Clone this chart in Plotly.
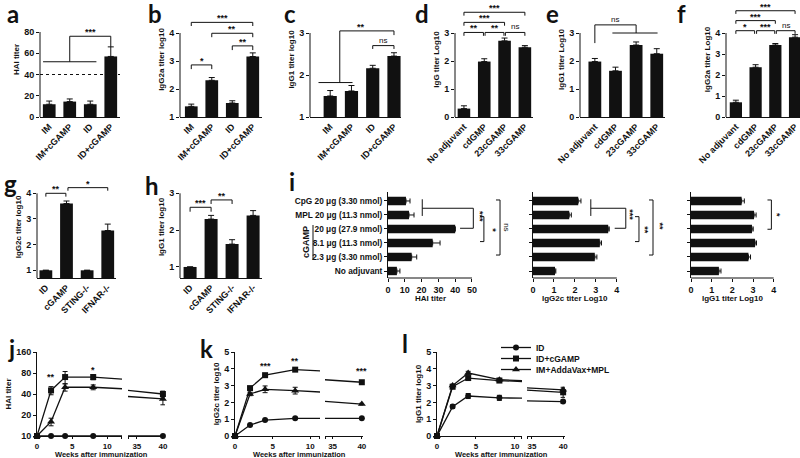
import math
import plotly.graph_objects as go

W, H = 800, 458
FONT = "Liberation Sans"
INK = "#111111"

# ---------------- data ----------------
a_cats = ["IM", "IM+cGAMP", "ID", "ID+cGAMP"]
a_vals = [12, 14.5, 12, 57]
a_errs = [3, 2.5, 3, 9]

b_vals = [1.38, 2.31, 1.5, 3.16]
b_errs = [0.08, 0.1, 0.08, 0.13]

c_vals = [1.5, 1.62, 2.16, 2.45]
c_errs = [0.13, 0.13, 0.07, 0.08]

adj_cats = ["No adjuvant", "cdGMP", "23cGAMP", "33cGAMP"]
d_vals = [0.3, 1.98, 2.72, 2.49]
d_errs = [0.1, 0.1, 0.1, 0.06]
e_vals = [1.98, 1.65, 2.57, 2.26]
e_errs = [0.11, 0.13, 0.11, 0.18]
f_vals = [0.7, 2.37, 3.43, 3.8]
f_errs = [0.1, 0.12, 0.07, 0.12]

ko_cats = ["ID", "cGAMP", "STING-/-", "IFNAR-/-"]
g_vals = [1.0, 3.6, 1.0, 2.55]
g_errs = [0, 0.1, 0, 0.25]
h_vals = [1.0, 2.3, 1.62, 2.4]
h_errs = [0, 0.1, 0.12, 0.13]

i_cats = ["CpG 20 μg (3.30 nmol)", "MPL 20 μg (11.3 nmol)", "20 μg (27.9 nmol)",
          "8.1 μg (11.3 nmol)", "2.3 μg (3.30 nmol)", "No adjuvant"]
i_hai = [10.7, 12.5, 40, 26.6, 14.1, 5.3]
i_hai_err = [2.4, 3, 0, 4.4, 3, 1.8]
i_igg2c = [2.16, 1.73, 3.59, 3.19, 2.95, 1.05]
i_igg2c_err = [0.13, 0.1, 0.05, 0.08, 0.1, 0.04]
i_igg1 = [2.45, 3.05, 2.95, 3.1, 2.78, 1.35]
i_igg1_err = [0.13, 0.1, 0.06, 0.07, 0.1, 0.1]

weeks = [0, 2, 4, 8, 40]
groups = ["ID", "ID+cGAMP", "IM+AddaVax+MPL"]
j_id = [10, 10, 10, 10, 10]
j_id_err = [0, 0, 0, 0, 0]
j_cg = [10, 45, 70, 70, 40]
j_cg_err = [0, 6, 14, 6, 4]
j_mpl = [10, 16, 50, 50, 34]
j_mpl_err = [0, 2, 6, 4, 6]

k_id = [0, 0.65, 0.95, 1.05, 1.05]
k_id_err = [0, 0.03, 0.03, 0.03, 0.03]
k_cg = [0, 2.85, 3.62, 3.95, 3.2]
k_cg_err = [0, 0.07, 0.05, 0.05, 0.05]
k_mpl = [0, 2.5, 2.78, 2.7, 1.9]
k_mpl_err = [0, 0.1, 0.2, 0.2, 0.05]

l_id = [0, 1.75, 2.38, 2.27, 2.05]
l_id_err = [0, 0.1, 0.15, 0.15, 0.1]
l_cg = [0, 2.93, 3.45, 3.3, 2.6]
l_cg_err = [0, 0.08, 0.1, 0.1, 0.3]
l_mpl = [0, 3.0, 3.75, 3.35, 2.75]
l_mpl_err = [0, 0.08, 0.1, 0.08, 0.05]

# ---------------- helpers ----------------
fig = go.Figure()
layout = dict(width=W, height=H, margin=dict(l=0, r=0, t=0, b=0, autoexpand=False),
              template="none", paper_bgcolor="white", plot_bgcolor="white",
              font=dict(family=FONT, size=9, color=INK), showlegend=True)
shapes, annos = [], []

TICK = dict(family=FONT, size=9, color=INK, weight="bold")
TTICK = dict(family=FONT, size=8, color=INK, weight="bold")
TITLE = dict(family=FONT, size=8, color=INK, weight="bold")
STAR = dict(family=FONT, size=9, color=INK, weight="bold")
NS = dict(family=FONT, size=8, color=INK)
BASE_AX = dict(automargin=False, showgrid=False, zeroline=False, fixedrange=True)


def X(p):
    return p / W


def Y(p):
    return 1 - p / H


def aname(k, n):
    return f"{k}axis" if n == 1 else f"{k}axis{n}"


def aref(k, n):
    return k if n == 1 else f"{k}{n}"


def label(text, x, y, xref, yref, font=STAR, angle=0, **kw):
    kw.setdefault("xanchor", "center")
    kw.setdefault("yanchor", "middle")
    annos.append(dict(text=text, x=x, y=y, xref=xref, yref=yref, showarrow=False,
                      font=font, textangle=angle, **kw))


def path(groups_, n, w=1):
    d = " ".join("M" + " L".join(f"{x},{y}" for x, y in grp) for grp in groups_)
    shapes.append(dict(type="path", path=d, xref=aref("x", n), yref=aref("y", n),
                       line=dict(color=INK, width=w)))


def bracket(n, x0, x1, y, drop, text):
    path([[(x0, y - drop), (x0, y), (x1, y), (x1, y - drop)]], n)
    f = NS if text == "ns" else STAR
    label(text, (x0 + x1) / 2, y, aref("x", n), aref("y", n), f,
          yanchor="bottom", yshift=-3 if text != "ns" else -1)


def vbar(n, cats, vals, errs, xpx, xr, ybot, ymin, ref_val, ref_px, ytop, yticks, ytitle):
    ppu = (ybot - ref_px) / (ref_val - ymin)
    ymax = ymin + (ybot - ytop) / ppu
    xs = list(range(len(cats)))
    fig.add_trace(go.Bar(
        x=xs, y=vals, width=0.62, marker=dict(color=INK, line=dict(width=0)),
        error_y=dict(type="data", array=errs, arrayminus=[0] * len(errs), symmetric=False,
                     color=INK, thickness=1, width=3),
        xaxis=aref("x", n), yaxis=aref("y", n), showlegend=False, hoverinfo="skip"))
    layout[aname("x", n)] = dict(
        domain=[X(xpx[0]), X(xpx[1])], range=xr, anchor=aref("y", n), showline=True,
        linecolor=INK, linewidth=1, ticks="", tickvals=xs, ticktext=cats, tickangle=-45,
        tickfont=TICK, **BASE_AX)
    layout[aname("y", n)] = dict(
        domain=[Y(ybot), Y(ytop)], range=[ymin, ymax], anchor=aref("x", n), showline=False,
        ticks="outside", ticklen=3, tickwidth=1, tickcolor=INK, tickvals=yticks,
        tickfont=TICK, title=dict(text=ytitle, font=TITLE, standoff=3), **BASE_AX)
    top = ybot - (yticks[-1] - ymin) * ppu
    shapes.append(dict(type="line", xref="paper", yref="paper", x0=X(xpx[0]), x1=X(xpx[0]),
                       y0=Y(ybot), y1=Y(top), line=dict(color=INK, width=1)))


def hbar(n, vals, errs, xpx, xr, xticks, show_cats):
    ys = list(range(len(i_cats)))[::-1]
    fig.add_trace(go.Bar(
        y=ys, x=vals, orientation="h", width=0.6, marker=dict(color=INK, line=dict(width=0)),
        error_x=dict(type="data", array=errs, arrayminus=[0] * len(errs), symmetric=False,
                     color=INK, thickness=1, width=2.5),
        xaxis=aref("x", n), yaxis=aref("y", n), showlegend=False, hoverinfo="skip"))
    ppu = (xpx[1] - xpx[0]) / (xr[1] - xr[0])
    layout[aname("x", n)] = dict(
        domain=[X(xpx[0]), X(xpx[1])], range=xr, anchor=aref("y", n), showline=False,
        ticks="outside", ticklen=3, tickcolor=INK, tickvals=xticks, tickfont=TICK, **BASE_AX)
    layout[aname("y", n)] = dict(
        domain=[Y(278), Y(192)], range=[-0.5, 5.64], anchor=aref("x", n), showline=True,
        linecolor=INK, linewidth=1, ticks="outside", ticklen=3, tickcolor=INK,
        tickvals=ys, ticktext=i_cats if show_cats else [""] * len(ys),
        tickfont=dict(family=FONT, size=8.3, color=INK, weight="bold"), **BASE_AX)
    end = xpx[0] + (xticks[-1] - xr[0]) * ppu
    shapes.append(dict(type="line", xref="paper", yref="paper", x0=X(xpx[0]), x1=X(end),
                       y0=Y(278), y1=Y(278), line=dict(color=INK, width=1)))


SYMS = ["circle", "square", "triangle-up"]
SIZES = [6, 6, 7]


def tpanel(xa, xb, yn, yov, apx, ar, bpx, br, ytype, yr, ytv, ytitle, series, legend):
    for k, (name, vals, errs) in enumerate(series):
        ia = [i for i, w in enumerate(weeks) if ar[0] <= w <= ar[1]]
        ib = [i for i, w in enumerate(weeks) if br[0] <= w <= br[1]]
        common = dict(marker=dict(symbol=SYMS[k], size=SIZES[k], color=INK),
                      line=dict(color=INK, width=1.3), cliponaxis=False, hoverinfo="skip")
        fig.add_trace(go.Scatter(
            x=[weeks[i] for i in ia], y=[vals[i] for i in ia], mode="lines+markers",
            error_y=dict(type="data", array=[errs[i] for i in ia], color=INK, thickness=1, width=2.5),
            xaxis=aref("x", xa), yaxis=aref("y", yn), name=name,
            showlegend=legend, legend=("legend" if k == 0 else f"legend{k + 1}"), **common))
        fig.add_trace(go.Scatter(
            x=[weeks[i] for i in ib], y=[vals[i] for i in ib], mode="markers",
            error_y=dict(type="data", array=[errs[i] for i in ib], color=INK, thickness=1, width=2.5),
            xaxis=aref("x", xb), yaxis=aref("y", yn), showlegend=False, **common))
        cx = [weeks[ia[-1]], weeks[ib[0]]]
        cy = [vals[ia[-1]], vals[ib[0]]]
        for xn in (xa, xb):
            fig.add_trace(go.Scatter(x=cx, y=cy, mode="lines", line=dict(color=INK, width=1.3),
                                     xaxis=aref("x", xn), yaxis=aref("y", yov),
                                     showlegend=False, hoverinfo="skip"))
    ydict = dict(domain=[Y(436), Y(352)], range=yr, type=ytype, **BASE_AX)
    layout[aname("y", yn)] = dict(
        anchor=aref("x", xa), showline=True, linecolor=INK, linewidth=1, ticks="outside",
        ticklen=3, tickcolor=INK, tickvals=ytv, tickfont=TICK,
        title=dict(text=ytitle, font=TITLE, standoff=3), **ydict)
    layout[aname("y", yov)] = dict(overlaying=aref("y", yn), anchor=aref("x", xa),
                                   visible=False, **ydict)
    eps = 1e-3
    layout[aname("x", xa)] = dict(
        domain=[X(apx[0]), X(apx[1])], range=ar, anchor=aref("y", yn), showline=True,
        linecolor=INK, linewidth=1, ticks="outside", ticklen=2, tickcolor=INK,
        tickvals=[0, 5, 10, ar[1] - eps], ticktext=["0", "5", "10", ""], tickfont=TTICK, **BASE_AX)
    layout[aname("x", xb)] = dict(
        domain=[X(bpx[0]), X(bpx[1])], range=br, anchor=aref("y", yn), showline=True,
        linecolor=INK, linewidth=1, ticks="outside", ticklen=2, tickcolor=INK,
        tickvals=[br[0] + eps, 35, 40], ticktext=["", "35", "40"], tickfont=TTICK, **BASE_AX)
    label("Weeks after immunization", X((apx[0] + bpx[1]) / 2), Y(454.5), "paper", "paper",
          dict(TITLE, size=7.5))


# ---------------- top row ----------------
vbar(1, a_cats, a_vals, a_errs, (40, 120), [-0.45, 3.45], 117, 0, 80, 32, 2, [0, 20, 40, 60, 80], "HAI titer")
vbar(2, a_cats, b_vals, b_errs, (180, 262), [-0.55, 3.45], 117, 1, 4, 33, 2, [1, 2, 3, 4], "IgG2a titer log10")
vbar(3, a_cats, c_vals, c_errs, (310, 401), [-0.95, 3.33], 117, 1, 3, 33, 2, [1, 2, 3], "IgG1 titer log10")
vbar(4, adj_cats, d_vals, d_errs, (455, 533), [-0.44, 3.4], 117, 0, 3, 33, 2, [0, 1, 2, 3], "IgG titer Log10")
vbar(5, adj_cats, e_vals, e_errs, (580, 665), [-0.72, 3.4], 117, 0, 3, 33, 2, [0, 1, 2, 3], "IgG1 titer Log10")
vbar(6, adj_cats, f_vals, f_errs, (726, 800), [-0.5, 3.25], 117, 0, 4, 33, 2, [0, 1, 2, 3, 4], "IgG2a titer Log10")
vbar(7, ko_cats, g_vals, g_errs, (37, 116), [-0.43, 3.4], 278, 0.7, 4, 193.3, 176, [1, 2, 3, 4], "IgG2c titer log10")
vbar(8, ko_cats, h_vals, h_errs, (180, 261.5), [-0.48, 3.4], 278, 0.7, 3, 193.3, 176, [1, 2, 3], "IgG1 titer log10")

# a annotations
shapes.append(dict(type="line", xref="x", yref="y", x0=-0.45, x1=3.45, y0=40, y1=40,
                   line=dict(color=INK, width=1, dash="dot")))
path([[(-0.3, 52), (2.3, 52)], [(1.0, 52), (1.0, 76), (3.0, 76), (3.0, 66)]], 1)
label("***", 2.0, 76, "x", "y", STAR, yanchor="bottom", yshift=-3)
# b
bracket(2, 0, 1, 2.86, 0.15, "*")
bracket(2, 2, 3, 3.54, 0.15, "**")
bracket(2, 1, 3, 3.99, 0.14, "**")
bracket(2, 0, 3, 4.38, 0.13, "***")
# c
path([[(-0.55, 1.82), (1.05, 1.82)], [(0.45, 1.82), (0.45, 3.05), (3.0, 3.05), (3.0, 2.95)]], 3)
label("**", 1.45, 3.05, "x3", "y3", STAR, yanchor="bottom", yshift=-3)
bracket(3, 2, 3, 2.7, 0.08, "ns")
# d
bracket(4, 0, 0.96, 3.02, 0.12, "**")
bracket(4, 1.04, 1.97, 3.02, 0.12, "**")
bracket(4, 2.04, 3, 3.02, 0.12, "ns")
bracket(4, 0, 2, 3.38, 0.12, "***")
bracket(4, 0, 3, 3.74, 0.12, "***")
# e
path([[(0, 2.64), (0, 3.29), (2, 3.29), (2, 3.0)], [(0.85, 3.0), (3.04, 3.0)]], 5)
label("ns", 1.0, 3.29, "x5", "y5", NS, yanchor="bottom", yshift=-1)
# f
bracket(6, 0, 0.95, 4.11, 0.15, "*")
bracket(6, 1.05, 1.97, 4.11, 0.15, "***")
bracket(6, 2.05, 3, 4.11, 0.15, "ns")
bracket(6, 0, 2, 4.59, 0.15, "***")
bracket(6, 0, 3, 5.06, 0.15, "***")
# g, h
bracket(7, 0, 0.97, 4.0, 0.13, "**")
bracket(7, 1.07, 3, 4.22, 0.12, "*")
bracket(8, 0, 1, 2.62, 0.12, "***")
bracket(8, 1, 2, 2.82, 0.11, "**")

# ---------------- panel i ----------------
hbar(9, i_hai, i_hai_err, (388, 510.6), [0, 73], [0, 10, 20, 30, 40, 50], True)
hbar(10, i_igg2c, i_igg2c_err, (533, 666), [0, 6.35], [0, 1, 2, 3, 4], False)
hbar(11, i_igg1, i_igg1_err, (691, 784), [0, 4.5], [0, 1, 2, 3, 4], False)

path([[(20.4, 5.12), (20.4, 3.93)], [(20.4, 4.48), (50.8, 4.48), (50.8, 3.05), (42.9, 3.05)]], 9)
path([[(54.8, 3.88), (57.1, 3.88), (57.1, 2.1), (54.8, 2.1)]], 9)
path([[(64.3, 5.07), (66.7, 5.07), (66.7, 1.14), (64.3, 1.14)]], 9)
label("***", 54.8, 3.93, "x9", "y9", STAR, angle=90)
label("*", 62.3, 2.93, "x9", "y9", STAR, angle=90)
label("ns", 70.6, 3.16, "x9", "y9", NS, angle=90)

path([[(2.76, 5.12), (2.76, 3.93)], [(2.76, 4.48), (4.43, 4.48), (4.43, 3.05), (3.9, 3.05)]], 10)
path([[(4.87, 3.88), (5.06, 3.88), (5.06, 2.1), (4.87, 2.1)]], 10)
path([[(5.54, 5.07), (5.73, 5.07), (5.73, 1.14), (5.54, 1.14)]], 10)
label("***", 4.62, 4.0, "x10", "y10", STAR, angle=90)
label("**", 5.33, 2.93, "x10", "y10", STAR, angle=90)
label("**", 6.05, 3.2, "x10", "y10", STAR, angle=90)

path([[(3.7, 5.07), (3.89, 5.07), (3.89, 2.98), (3.7, 2.98)]], 11)
label("*", 4.16, 4.0, "x11", "y11", STAR, angle=90)

shapes.append(dict(type="line", xref="paper", yref="paper", x0=X(313), x1=X(313),
                   y0=Y(225), y1=Y(260), line=dict(color=INK, width=1)))
label("cGAMP", X(306), Y(242), "paper", "paper", STAR, angle=-90)
label("HAI titer", X(430), Y(298), "paper", "paper", TITLE)
label("IgG2c titer Log10", X(575), Y(298), "paper", "paper", TITLE)
label("IgG1 titer Log10", X(732), Y(298), "paper", "paper", TITLE)

# ---------------- time courses ----------------
tpanel(12, 13, 12, 15, (37, 122), [0, 12.1], (128, 165), [33.3, 40.4], "log",
       [1, math.log10(160)], [10, 20, 40, 80, 160], "HAI titer",
       [(groups[0], j_id, j_id_err), (groups[1], j_cg, j_cg_err), (groups[2], j_mpl, j_mpl_err)], False)
tpanel(14, 15, 13, 16, (235, 320), [0, 11.3], (325, 363), [33.7, 40.2], "linear",
       [0, 5], [0, 1, 2, 3, 4, 5], "IgG2c titer log10",
       [(groups[0], k_id, k_id_err), (groups[1], k_cg, k_cg_err), (groups[2], k_mpl, k_mpl_err)], False)
tpanel(16, 17, 14, 17, (437, 522), [0, 10.9], (527, 565), [34.2, 40.3], "linear",
       [0, 5], [0, 1, 2, 3, 4, 5], "IgG1 titer log10",
       [(groups[0], l_id, l_id_err), (groups[1], l_cg, l_cg_err), (groups[2], l_mpl, l_mpl_err)], True)

label("**", 2, math.log10(70), "x12", "y12", STAR)
label("*", 8, math.log10(88), "x12", "y12", STAR)
label("***", 4, 4.17, "x14", "y13", STAR)
label("**", 8, 4.46, "x14", "y13", STAR)
label("***", 40, 3.87, "x15", "y13", STAR)

LEG = dict(font=dict(family=FONT, size=8.5, color=INK, weight="bold"), bgcolor="rgba(0,0,0,0)",
           itemwidth=30, xanchor="left", yanchor="top", borderwidth=0)
for k, top in enumerate([333, 344, 355]):
    layout["legend" if k == 0 else f"legend{k + 1}"] = dict(x=X(496), y=Y(top), **LEG)

# ---------------- panel letters ----------------
LET = dict(family="Lato", size=24, color=INK, weight="bold")
for t, x, y in [("a", 13, 13), ("b", 155, 13), ("c", 290, 13), ("d", 422, 13), ("e", 552, 14),
                ("f", 681, 14), ("g", 10, 183), ("h", 152, 185), ("i", 292, 181),
                ("j", 11, 348), ("k", 206, 348), ("l", 405, 343)]:
    label(t, X(x), Y(y), "paper", "paper", LET)

layout["shapes"] = shapes
layout["annotations"] = annos
fig.update_layout(**layout)
fig.write_html("out.html",
               config={"displayModeBar": False, "staticPlot": True},
               post_script="document.body.style.margin='0';document.body.style.padding='0';"
                           "document.documentElement.style.overflow='hidden';")
